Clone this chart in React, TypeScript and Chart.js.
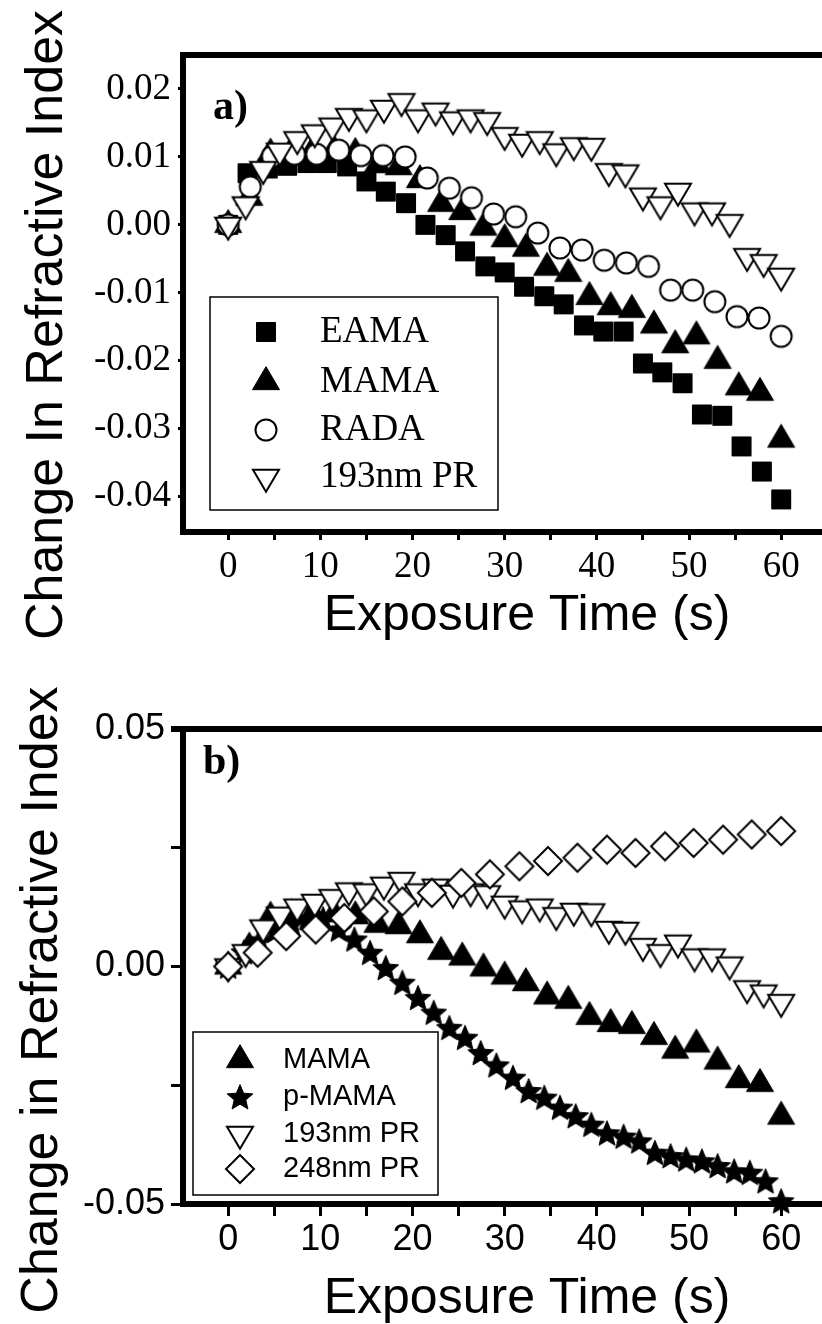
import React, { useEffect, useRef } from "react";
import { Chart, registerables } from "chart.js";

Chart.register(...registerables);

// ---------------- Panel a data ----------------
const timeEAMA = [0, 2.1, 4.3, 6.4, 8.6, 10.7, 12.9, 15.0, 17.1, 19.3, 21.4, 23.6, 25.7, 27.9, 30.0, 32.1, 34.3, 36.4, 38.6, 40.7, 42.9, 45.0, 47.1, 49.3, 51.4, 53.6, 55.7, 57.9, 60.0];
const changeEAMA = [0, 0.0076, 0.0083, 0.0087, 0.0091, 0.0091, 0.0086, 0.0064, 0.0049, 0.0032, 0.0000, -0.0015, -0.0039, -0.0061, -0.0070, -0.0091, -0.0105, -0.0117, -0.0148, -0.0157, -0.0157, -0.0204, -0.0217, -0.0233, -0.0279, -0.0281, -0.0326, -0.0363, -0.0404];

const timeMAMA = [0, 2.3, 4.6, 6.9, 9.2, 11.5, 13.8, 16.2, 18.5, 20.8, 23.1, 25.4, 27.7, 30.0, 32.3, 34.6, 36.9, 39.2, 41.5, 43.8, 46.2, 48.5, 50.8, 53.1, 55.4, 57.7, 60.0];
const changeMAMA = [0, 0.0040, 0.0105, 0.0110, 0.0110, 0.0110, 0.0106, 0.0088, 0.0085, 0.0066, 0.0031, 0.0019, -0.0004, -0.0021, -0.0035, -0.0063, -0.0072, -0.0106, -0.0121, -0.0125, -0.0148, -0.0177, -0.0164, -0.0200, -0.0239, -0.0247, -0.0316];

const timeRADA = [0, 2.4, 4.8, 7.2, 9.6, 12.0, 14.4, 16.8, 19.2, 21.6, 24.0, 26.4, 28.8, 31.2, 33.6, 36.0, 38.4, 40.8, 43.2, 45.6, 48.0, 50.4, 52.8, 55.2, 57.6, 60.0];
const changeRADA = [0, 0.0056, 0.0101, 0.0104, 0.0104, 0.0110, 0.0102, 0.0102, 0.0100, 0.0069, 0.0054, 0.0040, 0.0016, 0.0012, -0.0012, -0.0034, -0.0037, -0.0052, -0.0056, -0.0061, -0.0096, -0.0096, -0.0113, -0.0135, -0.0137, -0.0164];

const time193 = [0, 1.9, 3.8, 5.6, 7.5, 9.4, 11.3, 13.1, 15.0, 16.9, 18.8, 20.6, 22.5, 24.4, 26.3, 28.1, 30.0, 31.9, 33.8, 35.6, 37.5, 39.4, 41.3, 43.1, 45.0, 46.9, 48.8, 50.6, 52.5, 54.4, 56.3, 58.1, 60.0];
const change193 = [0, 0.0030, 0.0082, 0.0109, 0.0126, 0.0136, 0.0146, 0.0160, 0.0158, 0.0172, 0.0182, 0.0158, 0.0168, 0.0155, 0.0158, 0.0154, 0.0132, 0.0122, 0.0126, 0.0108, 0.0117, 0.0116, 0.0079, 0.0077, 0.0043, 0.0030, 0.0050, 0.0021, 0.0021, 0.0004, -0.0046, -0.0055, -0.0075];

// ---------------- Panel b data (MAMA and 193nm PR shared with panel a) ----------------
const timePMAMA = [0, 1.7, 3.4, 5.1, 6.9, 8.6, 10.3, 12.0, 13.7, 15.4, 17.1, 18.9, 20.6, 22.3, 24.0, 25.7, 27.4, 29.1, 30.9, 32.6, 34.3, 36.0, 37.7, 39.4, 41.1, 42.9, 44.6, 46.3, 48.0, 49.7, 51.4, 53.1, 54.9, 56.6, 58.3, 60.0];
const changePMAMA = [0, 0.0030, 0.0055, 0.0075, 0.0090, 0.0102, 0.0100, 0.0078, 0.0057, 0.0029, -0.0003, -0.0034, -0.0066, -0.0097, -0.0129, -0.0150, -0.0182, -0.0208, -0.0234, -0.0262, -0.0276, -0.0297, -0.0315, -0.0333, -0.0351, -0.0358, -0.0368, -0.0392, -0.0399, -0.0406, -0.0410, -0.0420, -0.0431, -0.0434, -0.0452, -0.0494];

const time248 = [0, 3.2, 6.3, 9.5, 12.6, 15.8, 18.9, 22.1, 25.3, 28.4, 31.6, 34.7, 37.9, 41.1, 44.2, 47.4, 50.5, 53.7, 56.8, 60.0];
const change248 = [0, 0.0029, 0.0064, 0.0078, 0.0102, 0.0116, 0.0137, 0.0155, 0.0176, 0.0194, 0.0211, 0.0222, 0.0229, 0.0246, 0.0239, 0.0253, 0.0260, 0.0267, 0.0278, 0.0285];

// ---------------- Axis ticks ----------------
const xTickValues = [0, 5, 10, 15, 20, 25, 30, 35, 40, 45, 50, 55, 60, 65];
const xLabelValues = [0, 10, 20, 30, 40, 50, 60];
const yTickValuesA = [0.02, 0.015, 0.01, 0.005, 0, -0.005, -0.01, -0.015, -0.02, -0.025, -0.03, -0.035, -0.04];
const yLabelValuesA = [0.02, 0.01, 0, -0.01, -0.02, -0.03, -0.04];
const yTickValuesB = [0.05, 0.025, 0, -0.025, -0.05];
const yLabelValuesB = [0.05, 0, -0.05];

// ---------------- Marker styles ----------------
type Marker = { kind: string; w: number; h: number; open: boolean };
const MK_EAMA: Marker = { kind: "square", w: 19, h: 19, open: false };
const MK_MAMA: Marker = { kind: "triUp", w: 27, h: 23, open: false };
const MK_RADA: Marker = { kind: "circle", w: 21, h: 21, open: true };
const MK_193: Marker = { kind: "triDown", w: 26, h: 22, open: true };
const MK_PMAMA: Marker = { kind: "star", w: 27, h: 27, open: false };
const MK_248: Marker = { kind: "diamond", w: 28, h: 28, open: true };

function drawMarker(ctx: CanvasRenderingContext2D, m: Marker, cx: number, cy: number) {
  const { kind, w, h, open } = m;
  ctx.save();
  ctx.beginPath();
  if (kind === "square") {
    ctx.rect(cx - w / 2, cy - h / 2, w, h);
  } else if (kind === "triUp") {
    ctx.moveTo(cx, cy - (2 * h) / 3);
    ctx.lineTo(cx + w / 2, cy + h / 3);
    ctx.lineTo(cx - w / 2, cy + h / 3);
    ctx.closePath();
  } else if (kind === "triDown") {
    ctx.moveTo(cx, cy + (2 * h) / 3);
    ctx.lineTo(cx + w / 2, cy - h / 3);
    ctx.lineTo(cx - w / 2, cy - h / 3);
    ctx.closePath();
  } else if (kind === "circle") {
    ctx.ellipse(cx, cy, w / 2, h / 2, 0, 0, Math.PI * 2);
  } else if (kind === "diamond") {
    ctx.moveTo(cx, cy - h / 2);
    ctx.lineTo(cx + w / 2, cy);
    ctx.lineTo(cx, cy + h / 2);
    ctx.lineTo(cx - w / 2, cy);
    ctx.closePath();
  } else if (kind === "star") {
    const R = w / 2;
    const r = R * 0.45;
    for (let k = 0; k < 10; k++) {
      const a = -Math.PI / 2 + (k * Math.PI) / 5;
      const rad = k % 2 === 0 ? R : r;
      const x = cx + rad * Math.cos(a);
      const y = cy + rad * Math.sin(a) + R * 0.08;
      if (k === 0) ctx.moveTo(x, y);
      else ctx.lineTo(x, y);
    }
    ctx.closePath();
  }
  ctx.lineJoin = "miter";
  ctx.fillStyle = open ? "#ffffff" : "#000000";
  ctx.fill();
  ctx.strokeStyle = "#000000";
  ctx.lineWidth = open ? 2 : 1;
  ctx.stroke();
  ctx.restore();
}

function markerImage(m: Marker): HTMLCanvasElement {
  const c = document.createElement("canvas");
  c.width = 44;
  c.height = 44;
  const ctx = c.getContext("2d")!;
  drawMarker(ctx, m, 22, 22);
  return c;
}

type Series = { name: string; t: number[]; v: number[]; marker: Marker; order: number };

type Panel = {
  id: string;
  top: number;
  padTop: number;
  xAxisH: number;
  yMin: number;
  yMax: number;
  yTicks: number[];
  yLabels: number[];
  tickFont: { family: string; size: number };
  yTickLen: number;
  yPad: number;
  xTickLen: number;
  xPad: number;
  topLineFrom: number;
  tag: string;
  tagX: number;
  tagY: number;
  legend: { x: number; y: number; w: number; h: number; markerX: number; textX: number; rowY: number[]; font: string };
  yTitle: string;
  yTitleBase: number;
  yTitleY: number;
  xTitleX: number;
  xTitleBase: number;
  series: Series[];
};

const CANVAS_W = 860;
const CANVAS_H = 662;
const PLOT_LEFT = 183;
const X_MIN = -4.9;
const X_MAX = 66;
const PX_PER_S = 9.217;

const SERIF = "'Liberation Serif', 'Times New Roman', serif";
const SANS = "'Liberation Sans', Arial, sans-serif";

const panelA: Panel = {
  id: "a",
  top: 0,
  padTop: 55,
  xAxisH: 130,
  yMin: -0.0452,
  yMax: 0.025,
  yTicks: yTickValuesA,
  yLabels: yLabelValuesA,
  tickFont: { family: SERIF, size: 37 },
  yTickLen: 5,
  yPad: 7,
  xTickLen: 8,
  xPad: 5,
  topLineFrom: 180,
  tag: "a)",
  tagX: 213,
  tagY: 108,
  legend: { x: 210, y: 297, w: 288, h: 213, markerX: 266, textX: 320, rowY: [332, 382, 430, 477], font: "37px " + SERIF },
  yTitle: "Change In Refractive Index",
  yTitleBase: 62,
  yTitleY: 325,
  xTitleX: 527,
  xTitleBase: 630,
  series: [
    { name: "EAMA", t: timeEAMA, v: changeEAMA, marker: MK_EAMA, order: 4 },
    { name: "MAMA", t: timeMAMA, v: changeMAMA, marker: MK_MAMA, order: 3 },
    { name: "RADA", t: timeRADA, v: changeRADA, marker: MK_RADA, order: 2 },
    { name: "193nm PR", t: time193, v: change193, marker: MK_193, order: 1 },
  ],
};

const panelB: Panel = {
  id: "b",
  top: 662,
  padTop: 67,
  xAxisH: 120,
  yMin: -0.05,
  yMax: 0.05,
  yTicks: yTickValuesB,
  yLabels: yLabelValuesB,
  tickFont: { family: SANS, size: 36 },
  yTickLen: 12,
  yPad: 6,
  xTickLen: 12,
  xPad: 2,
  topLineFrom: 171,
  tag: "b)",
  tagX: 203,
  tagY: 101,
  legend: { x: 193, y: 370, w: 245, h: 163, markerX: 240, textX: 283, rowY: [398, 435, 472, 507], font: "29px " + SANS },
  yTitle: "Change in Refractive Index",
  yTitleBase: 57,
  yTitleY: 338,
  xTitleX: 527,
  xTitleBase: 651,
  series: [
    { name: "MAMA", t: timeMAMA, v: changeMAMA, marker: MK_MAMA, order: 4 },
    { name: "p-MAMA", t: timePMAMA, v: changePMAMA, marker: MK_PMAMA, order: 3 },
    { name: "193nm PR", t: time193, v: change193, marker: MK_193, order: 2 },
    { name: "248nm PR", t: time248, v: change248, marker: MK_248, order: 1 },
  ],
};

function near(a: number, list: number[]) {
  return list.some((b) => Math.abs(a - b) < 1e-9);
}

function decorPlugin(p: Panel) {
  return {
    id: "decor" + p.id,
    afterDraw(chart: any) {
      const ctx = chart.ctx as CanvasRenderingContext2D;
      const ca = chart.chartArea;
      ctx.save();
      // top frame line
      ctx.fillStyle = "#000";
      ctx.fillRect(p.topLineFrom, ca.top - 3, chart.width - p.topLineFrom, 6);
      // panel tag
      ctx.font = "bold 42px " + SERIF;
      ctx.textAlign = "left";
      ctx.textBaseline = "middle";
      ctx.fillText(p.tag, p.tagX, p.tagY);
      // legend
      const L = p.legend;
      ctx.fillStyle = "#fff";
      ctx.fillRect(L.x, L.y, L.w, L.h);
      ctx.strokeStyle = "#000";
      ctx.lineWidth = 1.5;
      ctx.strokeRect(L.x, L.y, L.w, L.h);
      p.series.forEach((s, i) => {
        const y = L.rowY[i];
        drawMarker(ctx, s.marker, L.markerX, y);
        ctx.fillStyle = "#000";
        ctx.font = L.font;
        ctx.textAlign = "left";
        ctx.textBaseline = "middle";
        ctx.fillText(s.name, L.textX, y);
      });
      // x title
      ctx.fillStyle = "#000";
      ctx.font = "50px " + SANS;
      ctx.textAlign = "center";
      ctx.textBaseline = "alphabetic";
      ctx.fillText("Exposure Time (s)", p.xTitleX, p.xTitleBase);
      // y title
      ctx.save();
      ctx.translate(p.yTitleBase, p.yTitleY);
      ctx.rotate(-Math.PI / 2);
      ctx.font = "52px " + SANS;
      ctx.textAlign = "center";
      ctx.textBaseline = "alphabetic";
      ctx.fillText(p.yTitle, 0, 0);
      ctx.restore();
      ctx.restore();
    },
  };
}

function buildConfig(p: Panel): any {
  const plotRight = PLOT_LEFT + (X_MAX - X_MIN) * PX_PER_S;
  const datasets = p.series.map((s) => ({
    label: s.name,
    data: s.t.map((x, i) => ({ x, y: s.v[i] })),
    pointStyle: markerImage(s.marker),
    pointRadius: 12,
    pointHoverRadius: 12,
    showLine: false,
    order: s.order,
    clip: false,
  }));
  return {
    type: "scatter",
    data: { datasets },
    plugins: [decorPlugin(p)],
    options: {
      responsive: false,
      animation: false,
      devicePixelRatio: 1,
      events: [],
      layout: { padding: { left: 0, top: p.padTop, right: CANVAS_W - plotRight, bottom: 0 } },
      plugins: { legend: { display: false }, tooltip: { enabled: false }, title: { display: false } },
      scales: {
        x: {
          type: "linear",
          position: "bottom",
          min: X_MIN,
          max: X_MAX,
          afterBuildTicks: (scale: any) => {
            scale.ticks = xTickValues.map((v) => ({ value: v }));
          },
          afterFit: (scale: any) => {
            scale.height = p.xAxisH;
          },
          ticks: {
            autoSkip: false,
            maxRotation: 0,
            minRotation: 0,
            padding: p.xPad,
            color: "#000",
            font: { family: p.tickFont.family, size: p.tickFont.size, lineHeight: 1.2 },
            callback: (v: number) => (near(v, xLabelValues) ? String(v) : ""),
          },
          grid: {
            drawOnChartArea: false,
            drawTicks: true,
            tickLength: p.xTickLen,
            tickWidth: 3,
            tickColor: "#000",
            color: "#000",
          },
          border: { display: true, width: 6, color: "#000" },
        },
        y: {
          type: "linear",
          position: "left",
          min: p.yMin,
          max: p.yMax,
          afterBuildTicks: (scale: any) => {
            scale.ticks = p.yTicks.map((v) => ({ value: v }));
          },
          afterFit: (scale: any) => {
            scale.width = PLOT_LEFT;
          },
          ticks: {
            padding: p.yPad,
            color: "#000",
            font: { family: p.tickFont.family, size: p.tickFont.size, lineHeight: 1.2 },
            callback: (v: number) => (near(v, p.yLabels) ? v.toFixed(2) : ""),
          },
          grid: {
            drawOnChartArea: false,
            drawTicks: true,
            tickLength: p.yTickLen,
            tickWidth: 3,
            tickColor: "#000",
            color: "#000",
          },
          border: { display: true, width: 6, color: "#000" },
        },
      },
    },
  };
}

function PanelChart({ panel }: { panel: Panel }) {
  const ref = useRef<HTMLCanvasElement>(null);
  useEffect(() => {
    const chart = new Chart(ref.current as HTMLCanvasElement, buildConfig(panel));
    return () => chart.destroy();
  }, [panel]);
  return (
    <canvas
      ref={ref}
      width={CANVAS_W}
      height={CANVAS_H}
      style={{ position: "absolute", left: 0, top: panel.top, width: CANVAS_W, height: CANVAS_H }}
    />
  );
}

export default function App() {
  return (
    <div
      style={{
        position: "absolute",
        left: 0,
        top: 0,
        width: 822,
        height: 1324,
        overflow: "hidden",
        background: "#ffffff",
      }}
    >
      <PanelChart panel={panelA} />
      <PanelChart panel={panelB} />
    </div>
  );
}
